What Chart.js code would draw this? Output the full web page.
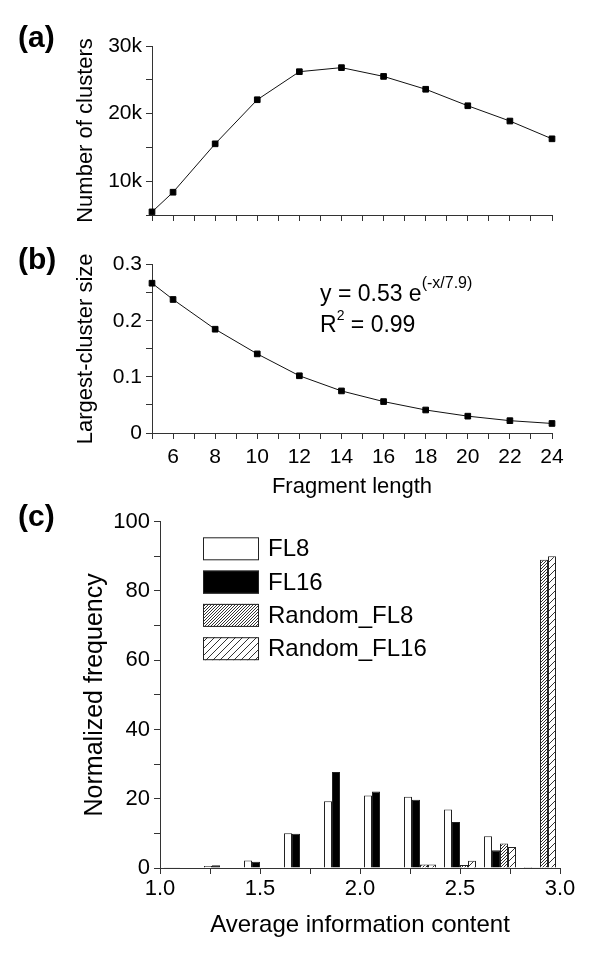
<!DOCTYPE html>
<html>
<head>
<meta charset="utf-8">
<script src="https://cdn.jsdelivr.net/npm/chart.js@4.4.0/dist/chart.umd.min.js"></script>
<style>
  html, body { margin: 0; padding: 0; background: #fff; }
  body { width: 600px; height: 953px; position: relative; overflow: hidden;
         font-family: "Liberation Sans", Arial, sans-serif; color: #000; }
  .panel { position: absolute; left: 0; }
  .tag { position: absolute; left: 18px; font-weight: bold; font-size: 30px; line-height: 30px; }
  .fit { position: absolute; left: 320px; font-size: 23px; line-height: 23px; white-space: nowrap; }
  .fit .sup { font-size: 16px; position: relative; top: -13px; }
  .fit .sup2 { font-size: 14px; position: relative; top: -12px; }
</style>
</head>
<body>
<div class="panel" style="top:0"><canvas id="chartA" width="600" height="232"></canvas></div>
<div class="panel" style="top:232px"><canvas id="chartB" width="600" height="275"></canvas></div>
<div class="panel" style="top:495px"><canvas id="chartC" width="600" height="458"></canvas></div>

<div class="tag" style="top:22px">(a)</div>
<div class="tag" style="top:244px">(b)</div>
<div class="tag" style="top:501px">(c)</div>

<div class="fit" style="top:282px">y = 0.53 e<span class="sup">(-x/7.9)</span></div>
<div class="fit" style="top:313px">R<span class="sup2">2</span> = 0.99</div>

<script>
// panels (a) and (b): x = fragment length
const fragLen = [5, 6, 8, 10, 12, 14, 16, 18, 20, 22, 24];
const clusterCount = [5460, 8370, 15530, 22050, 26200, 26800, 25500, 23600, 21160, 18900, 16270];
const largestSize = [0.267, 0.238, 0.185, 0.141, 0.102, 0.075, 0.056, 0.041, 0.030, 0.022, 0.017];

// panel (c): bins of average information content
const binLabels = ["1.1", "1.3", "1.5", "1.7", "1.9", "2.1", "2.3", "2.5", "2.7", "2.9"];
const fl8 = [0.2, 0.6, 2.2, 10.0, 19.3, 20.9, 20.6, 16.9, 9.2, 0.3];
const fl16 = [0.2, 0.8, 1.8, 9.9, 27.7, 22.1, 19.7, 13.3, 5.1, 0.1];
const randomFl8 = [0, 0, 0, 0, 0, 0, 1.0, 0.9, 7.1, 89.0];
const randomFl16 = [0, 0, 0, 0, 0, 0, 1.0, 2.1, 6.1, 90.0];

const FONT = '"Liberation Sans", Arial, sans-serif';
Chart.defaults.font.family = FONT;
Chart.defaults.color = "#000";

const axisBase = {
  grid: { drawOnChartArea: false, drawTicks: true, tickLength: 6, color: "#333", tickColor: "#333" },
  border: { display: true, color: "#333", width: 1 },
};

function lineChart(id, values, yOpts, xShowLabels, xFit, topPad, titleText, xTitle) {
  return new Chart(document.getElementById(id), {
    type: "line",
    data: {
      datasets: [{
        data: fragLen.map((x, i) => ({ x: x, y: values[i] })),
        borderColor: "#111",
        borderWidth: 1,
        pointStyle: "rect",
        pointRadius: 4,
        pointBorderWidth: 1,
        pointBackgroundColor: "#000",
        pointBorderColor: "#000",
        tension: 0,
        clip: false,
      }],
    },
    options: {
      responsive: false,
      animation: false,
      layout: { padding: { top: topPad, right: 48, left: 0, bottom: 0 } },
      plugins: { legend: { display: false }, tooltip: { enabled: false } },
      scales: {
        x: Object.assign({}, axisBase, {
          type: "linear",
          min: 5, max: 24,
          ticks: {
            stepSize: 1, padding: 6, maxRotation: 0, autoSkip: false,
            font: { size: 21 },
            callback: (v) => (xShowLabels && v % 2 === 0 ? String(v) : ""),
          },
          title: xTitle ? { display: true, text: xTitle, font: { size: 22 }, padding: { top: 0, bottom: 7 } } : { display: false },
          afterFit: (s) => { s.height = xFit; },
        }),
        y: Object.assign({}, axisBase, yOpts, {
          title: { display: true, text: titleText, font: { size: 22 }, padding: { top: 73, bottom: 0 } },
          afterFit: (s) => { s.width = 152; },
        }),
      },
    },
  });
}

lineChart("chartA", clusterCount, {
  min: 5000, max: 30000,
  ticks: {
    stepSize: 5000, padding: 4, font: { size: 21 }, autoSkip: false,
    callback: (v) => (v % 10000 === 0 ? v / 1000 + "k" : ""),
  },
}, false, 17, 46, "Number of clusters", null);

lineChart("chartB", largestSize, {
  min: 0, max: 0.3,
  ticks: {
    stepSize: 0.05, padding: 4, font: { size: 21 }, autoSkip: false,
    callback: (v) => {
      const t = Math.round(v * 100);
      if (t % 10 !== 0) return "";
      return t === 0 ? "0" : (t / 100).toFixed(1);
    },
  },
}, true, 74, 32.7, "Largest-cluster size", "Fragment length");

// hatch fills for the random sets
function hatch(step, color) {
  const c = document.createElement("canvas");
  c.width = step; c.height = step;
  const g = c.getContext("2d");
  g.fillStyle = "#fff";
  g.fillRect(0, 0, step, step);
  g.strokeStyle = color;
  g.lineWidth = 1;
  g.beginPath();
  g.moveTo(0, step); g.lineTo(step, 0);
  g.moveTo(-1, 1); g.lineTo(1, -1);
  g.moveTo(step - 1, step + 1); g.lineTo(step + 1, step - 1);
  g.stroke();
  return g.createPattern(c, "repeat");
}

const insideLegend = {
  id: "insideLegend",
  afterDraw(chart) {
    const ctx = chart.ctx;
    const a = chart.chartArea;
    ctx.save();
    ctx.font = "24px " + FONT;
    ctx.textBaseline = "middle";
    chart.data.datasets.forEach((ds, i) => {
      const x = a.left + 43;
      const y = a.top + 15.6 + i * 33.3;
      ctx.fillStyle = ds.backgroundColor;
      ctx.fillRect(x, y, 56, 23);
      ctx.strokeStyle = "#222";
      ctx.lineWidth = 1;
      ctx.strokeRect(x + 0.5, y + 0.5, 55, 22);
      ctx.fillStyle = "#000";
      ctx.fillText(ds.label, x + 65, y + 12.5);
    });
    ctx.restore();
  },
};

const barStyle = { borderColor: "#222", borderWidth: 1, borderSkipped: "start", xAxisID: "x" };

new Chart(document.getElementById("chartC"), {
  type: "bar",
  data: {
    labels: binLabels,
    datasets: [
      Object.assign({ label: "FL8", data: fl8, backgroundColor: "#fff" }, barStyle),
      Object.assign({ label: "FL16", data: fl16, backgroundColor: "#000" }, barStyle),
      Object.assign({ label: "Random_FL8", data: randomFl8, backgroundColor: hatch(3, "#333") }, barStyle),
      Object.assign({ label: "Random_FL16", data: randomFl16, backgroundColor: hatch(7, "#333") }, barStyle),
    ],
  },
  options: {
    responsive: false,
    animation: false,
    categoryPercentage: 0.8,
    barPercentage: 1.0,
    layout: { padding: { top: 26.7, right: 40, left: 0, bottom: 0 } },
    plugins: { legend: { display: false }, tooltip: { enabled: false } },
    scales: {
      x: { type: "category", display: false, offset: true },
      xt: {
        type: "linear", axis: "x", position: "bottom",
        min: 1, max: 3, offset: false,
        grid: { offset: false, drawOnChartArea: false, drawTicks: true, tickLength: 6, color: "#333", tickColor: "#333" },
        border: { display: true, color: "#333", width: 1 },
        ticks: {
          stepSize: 0.25, padding: 2, maxRotation: 0, autoSkip: false,
          font: { size: 22 },
          callback: (v) => (Math.round(v * 100) % 50 === 0 ? v.toFixed(1) : ""),
        },
        title: { display: true, text: "Average information content", font: { size: 24 }, padding: { top: 0, bottom: 13 } },
        afterFit: (s) => { s.height = 85; },
      },
      y: Object.assign({}, axisBase, {
        min: 0, max: 100,
        ticks: {
          stepSize: 10, padding: 4, font: { size: 22 }, autoSkip: false,
          callback: (v) => (v % 20 === 0 ? String(v) : ""),
        },
        title: { display: true, text: "Normalized frequency", font: { size: 25 }, padding: { top: 80, bottom: 0 } },
        afterFit: (s) => { s.width = 160; },
      }),
    },
  },
  plugins: [insideLegend],
});
</script>
</body>
</html>
